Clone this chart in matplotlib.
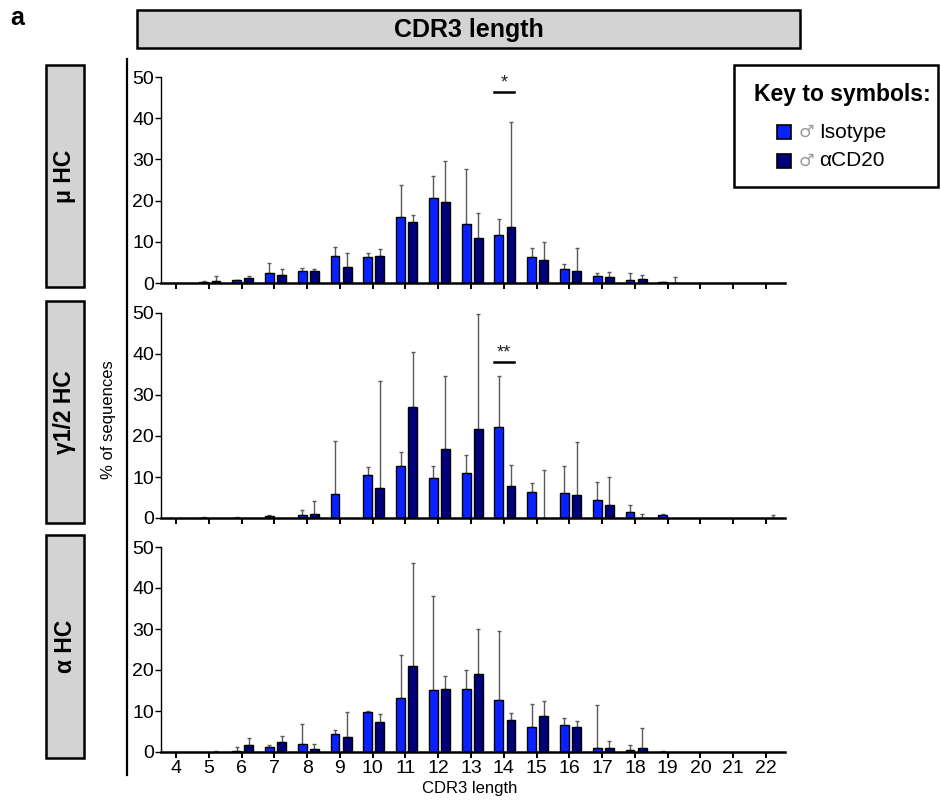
import matplotlib
matplotlib.use("Agg")
import matplotlib.pyplot as plt
from matplotlib.patches import Rectangle
from matplotlib.lines import Line2D
import numpy as np

plt.rcParams['font.family'] = ['Liberation Sans', 'DejaVu Sans']

# ---------------- data ----------------
cdr3_lengths = list(range(4, 23))
x_tick_labels = [str(v) for v in cdr3_lengths]
y_ticks = [0, 10, 20, 30, 40, 50]

panel_names = ["\u03bc HC", "\u03b31/2 HC", "\u03b1 HC"]
series_names = ["Isotype", "\u03b1CD20"]

iso_mu    = [0, 0.35, 0.65, 2.4, 2.9, 6.6, 6.3, 16.0, 20.7, 14.2, 11.6, 6.4, 3.5, 1.7, 0.65, 0.2, 0, 0, 0]
iso_mu_sd = [0, 0.2, 0.15, 2.5, 0.8, 2.1, 1.0, 7.9, 5.2, 13.5, 3.9, 2.0, 1.1, 0.7, 1.75, 0.1, 0, 0, 0]
acd_mu    = [0, 0.4, 1.1, 1.9, 2.9, 4.0, 6.6, 14.7, 19.7, 11.0, 13.7, 5.6, 3.0, 1.4, 0.9, 0.05, 0, 0, 0]
acd_mu_sd = [0, 1.2, 0.7, 1.5, 0.5, 3.4, 1.7, 1.9, 10.0, 5.9, 25.4, 4.4, 5.5, 1.3, 1.0, 1.3, 0, 0, 0]

iso_g    = [0, 0.1, 0.1, 0.6, 0.65, 5.9, 10.5, 12.7, 9.8, 10.9, 22.3, 6.4, 6.2, 4.4, 1.5, 0.7, 0, 0, 0]
iso_g_sd = [0, 0.2, 0.1, 0.2, 1.35, 13.0, 1.9, 3.3, 3.0, 4.5, 12.3, 2.1, 6.4, 4.4, 1.7, 0.3, 0, 0, 0]
acd_g    = [0, 0, 0, 0, 1.0, 0, 7.2, 27.0, 16.9, 21.6, 7.7, 0, 5.7, 3.1, 0, 0, 0, 0, 0]
acd_g_sd = [0, 0, 0, 0, 3.2, 0, 26.3, 13.4, 17.8, 28.2, 5.3, 11.6, 12.9, 7.0, 1.0, 0, 0, 0, 0.8]

iso_a    = [0, 0, 0.25, 1.3, 1.9, 4.5, 9.8, 13.2, 15.2, 15.4, 12.6, 6.1, 6.5, 1.05, 0.55, 0.05, 0, 0, 0]
iso_a_sd = [0, 0, 0.95, 0.5, 5.0, 0.9, 0.2, 10.5, 22.9, 4.6, 16.8, 5.6, 1.8, 10.35, 1.05, 0.25, 0, 0, 0]
acd_a    = [0, 0, 1.7, 2.4, 0.65, 3.7, 7.4, 21.0, 15.4, 19.1, 7.9, 8.9, 6.0, 1.05, 1.05, 0, 0, 0, 0]
acd_a_sd = [0, 0.3, 1.6, 1.4, 1.25, 6.1, 1.9, 25.0, 3.1, 10.9, 1.6, 3.5, 1.5, 1.65, 4.85, 0, 0, 0, 0]

# significance annotations: (panel index, CDR3 length, y level, label)
sig_panel = [0, 1]
sig_x = [14, 14]
sig_y = [46.3, 38.0]
sig_text = ["*", "**"]

# ---------------- styling ----------------
W, H = 940, 807
C_ISO = "#0A22FF"
C_ACD = "#00007A"
C_ERR = "#5a5a5a"
BOX_GRAY = "#D3D3D3"

fig = plt.figure(figsize=(W / 100, H / 100), dpi=100)


def fx(px):
    return px / W


def fy(py):
    return 1 - py / H


def add_box(x0, y0, x1, y1, lw=1.8):
    fig.patches.append(Rectangle((fx(x0), fy(y1)), fx(x1) - fx(x0), fy(y0) - fy(y1),
                                 transform=fig.transFigure, facecolor=BOX_GRAY,
                                 edgecolor="black", linewidth=lw))


panels = [
    (iso_mu, iso_mu_sd, acd_mu, acd_mu_sd, 77, 283),
    (iso_g, iso_g_sd, acd_g, acd_g_sd, 313, 518),
    (iso_a, iso_a_sd, acd_a, acd_a_sd, 547, 752),
]

ax_left, ax_right = 161, 785
x = np.array(cdr3_lengths, dtype=float)
bw = 0.27
off_iso, off_acd = -0.15, 0.22
xmin = 4 - (176 - ax_left) / 32.8
xmax = 22 + (ax_right - 766) / 32.8

axes = []
for i, (iv, isd, av, asd, top, bot) in enumerate(panels):
    ax = fig.add_axes([fx(ax_left), fy(bot), fx(ax_right) - fx(ax_left), fy(top) - fy(bot)])
    axes.append(ax)
    for vals, sds, off, col in [(iv, isd, off_iso, C_ISO), (av, asd, off_acd, C_ACD)]:
        vals = np.array(vals, dtype=float)
        sds = np.array(sds, dtype=float)
        mask = sds > 0
        ax.errorbar(x[mask] + off, vals[mask],
                    yerr=[np.zeros(mask.sum()), sds[mask]],
                    fmt="none", ecolor=C_ERR, elinewidth=1.0, capsize=1.2,
                    capthick=1.0, zorder=1)
        bmask = vals > 0
        ax.bar(x[bmask] + off, vals[bmask], width=bw, color=col, edgecolor="black",
               linewidth=1.0, zorder=2)
    ax.set_xlim(xmin, xmax)
    ax.set_ylim(0, 50)
    ax.set_xticks(cdr3_lengths)
    ax.set_yticks(y_ticks)
    ax.set_yticklabels([str(t) for t in y_ticks], fontsize=14)
    if i == 2:
        ax.set_xticklabels(x_tick_labels, fontsize=14)
    else:
        ax.set_xticklabels([])
    for s in ["top", "right"]:
        ax.spines[s].set_visible(False)
    ax.spines["left"].set_linewidth(1.0)
    ax.spines["bottom"].set_linewidth(1.8)
    ax.tick_params(axis="x", direction="out", length=4, width=1.4, pad=2)
    ax.tick_params(axis="y", direction="out", length=4, width=1.0, pad=1)
    ax.patch.set_alpha(0)

# significance brackets
for p, sx, sy, st in zip(sig_panel, sig_x, sig_y, sig_text):
    ax = axes[p]
    ax.plot([sx - 0.3, sx + 0.3], [sy, sy], color="black", linewidth=1.8, clip_on=False)
    ax.text(sx, sy + 0.2, st, ha="center", va="bottom", fontsize=13,
            color="#222222")

# title box
add_box(137, 10, 800, 48)
fig.text(fx(468.5), fy(30), "CDR3 length", ha="center", va="center", fontsize=18,
         fontweight="bold")

# row label boxes
row_boxes = [(65, 287), (301, 523), (535, 758)]
for name, (t, b) in zip(panel_names, row_boxes):
    add_box(46, t, 84, b)
    fig.text(fx(65), fy((t + b) / 2), name, ha="center", va="center", rotation=90,
             fontsize=16.5, fontweight="bold")

# panel letter
fig.text(fx(10), fy(18), "a", ha="left", va="center", fontsize=18, fontweight="bold")

# long vertical line + y label
fig.add_artist(Line2D([fx(127), fx(127)], [fy(59), fy(775)], transform=fig.transFigure,
                      color="black", linewidth=1.6))
fig.text(fx(108), fy(420), "% of sequences", ha="center", va="center", rotation=90,
         fontsize=12)

# x label
fig.text(fx(470), fy(788), "CDR3 length", ha="center", va="center", fontsize=12)

# legend (key to symbols)
fig.patches.append(Rectangle((fx(734), fy(187)), fx(938) - fx(734), fy(65) - fy(187),
                             transform=fig.transFigure, facecolor="white",
                             edgecolor="black", linewidth=1.8))
fig.text(fx(842), fy(94), "Key to symbols:", ha="center", va="center", fontsize=16.5,
         fontweight="bold")
for name, col, yc in zip(series_names, [C_ISO, C_ACD], [132, 161]):
    fig.patches.append(Rectangle((fx(777), fy(yc + 7)), fx(791) - fx(777), fy(yc - 7) - fy(yc + 7),
                                 transform=fig.transFigure, facecolor=col,
                                 edgecolor="black", linewidth=1.2))
    fig.text(fx(799), fy(yc), "\u2642", ha="left", va="center", fontsize=12.5,
             color="#9a9a9a", family=["DejaVu Sans"])
    fig.text(fx(819), fy(yc), name, ha="left", va="center", fontsize=15)

fig.savefig("out.png", dpi=100)
